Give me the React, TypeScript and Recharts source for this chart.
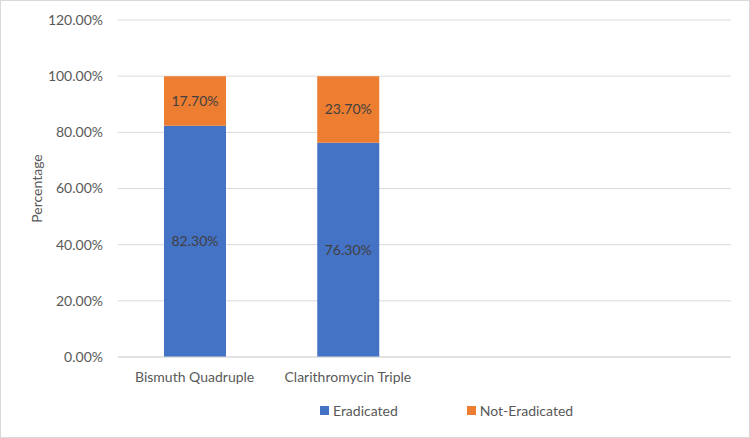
import { BarChart, Bar, XAxis, YAxis, CartesianGrid, Legend, LabelList } from "recharts";

// ── Data ──
const categories = ["Bismuth Quadruple", "Clarithromycin Triple", " ", "  "];
const eradicated = [82.3, 76.3, null, null];
const notEradicated = [17.7, 23.7, null, null];
const yTicks = [0, 20, 40, 60, 80, 100, 120];

const BLUE = "#4472C4";
const ORANGE = "#ED7D31";
const TEXT = "#595959";
const FONT = "Lato, 'Open Sans', sans-serif";

const data = categories.map((name, i) => ({
  name,
  eradicated: eradicated[i],
  notEradicated: notEradicated[i],
}));

const pct = (v: unknown) => (typeof v === "number" ? `${v.toFixed(2)}%` : "");

// ── Y axis title ──
function YTitle({ viewBox }: { viewBox?: { x: number; y: number; width: number; height: number } }) {
  if (!viewBox) return null;
  const cx = 35;
  const cy = viewBox.y + viewBox.height / 2;
  return (
    <text x={cx} y={cy} transform={`rotate(-90 ${cx} ${cy})`} textAnchor="middle" dominantBaseline="central" fill={TEXT} fontSize={14} fontFamily={FONT}>
      Percentage
    </text>
  );
}

// ── Legend ──
function ChartLegend() {
  const items = [
    { label: "Eradicated", color: BLUE },
    { label: "Not-Eradicated", color: ORANGE },
  ];
  return (
    <div style={{ display: "flex", justifyContent: "flex-start", paddingLeft: 319, fontFamily: FONT, fontSize: 14, color: TEXT }}>
      {items.map((it, i) => (
        <div key={it.label} style={{ display: "flex", alignItems: "center", marginRight: i === 0 ? 69 : 0 }}>
          <span style={{ width: 9, height: 9, background: it.color, display: "inline-block", marginRight: 4 }} />
          <span>{it.label}</span>
        </div>
      ))}
    </div>
  );
}

export default function App() {
  return (
    <div style={{ position: "absolute", left: 0, top: 0, width: 750, height: 438, boxSizing: "border-box", border: "1px solid #D9D9D9", background: "#fff" }}>
      <BarChart
        width={748}
        height={436}
        data={data}
        margin={{ top: 19, right: 18, left: 0, bottom: 4 }}
        barSize={62}
      >
        <CartesianGrid stroke="#D9D9D9" vertical={false} />
        <XAxis
          dataKey="name"
          axisLine={{ stroke: "#D9D9D9" }}
          tickLine={false}
          tick={{ fill: TEXT, fontSize: 14, fontFamily: FONT }}
          tickMargin={9}
          height={45}
          interval={0}
        />
        <YAxis
          domain={[0, 120]}
          ticks={yTicks}
          tickFormatter={pct}
          axisLine={false}
          tickLine={false}
          tick={{ fill: TEXT, fontSize: 14, fontFamily: FONT }}
          tickMargin={9}
          width={117}
          label={<YTitle />}
        />
        <Legend verticalAlign="bottom" height={31} content={<ChartLegend />} />
        <Bar dataKey="eradicated" name="Eradicated" stackId="a" fill={BLUE} isAnimationActive={false}>
          <LabelList dataKey="eradicated" position="center" formatter={pct} fill="#404040" fontSize={14} fontFamily={FONT} />
        </Bar>
        <Bar dataKey="notEradicated" name="Not-Eradicated" stackId="a" fill={ORANGE} isAnimationActive={false}>
          <LabelList dataKey="notEradicated" position="center" formatter={pct} fill="#404040" fontSize={14} fontFamily={FONT} />
        </Bar>
      </BarChart>
    </div>
  );
}
